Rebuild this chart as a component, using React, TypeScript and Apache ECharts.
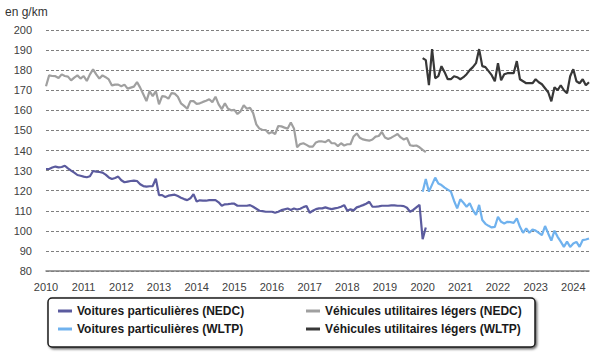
import React, { useEffect, useRef } from "react";
import * as echarts from "echarts";

const START_NEDC = 2010; // January 2010
const START_WLTP = 2020; // January 2020
const X_MAX = 2024 + 5 / 12; // June 2024
const yearTicks = [2010, 2011, 2012, 2013, 2014, 2015, 2016, 2017, 2018, 2019, 2020, 2021, 2022, 2023, 2024];

const NAME_VP_NEDC = "Voitures particulières (NEDC)";
const NAME_VP_WLTP = "Voitures particulières (WLTP)";
const NAME_VUL_NEDC = "Véhicules utilitaires légers (NEDC)";
const NAME_VUL_WLTP = "Véhicules utilitaires légers (WLTP)";

// Monthly values, from January 2010
const vpNedc = [
  130.8, 130.8, 131.5, 132, 131.6, 131.8, 132.4, 131.1, 130, 129, 127.8, 127.4,
  127, 126.7, 127.2, 129.8, 129.5, 129.3, 129, 128, 126.6, 125.8, 126.3, 127,
  125.2, 124.2, 124.5, 124.8, 125, 124.8, 123.2, 122.3, 122, 122.2, 122.3, 126,
  117.8, 117.8, 116.8, 117.5, 117.8, 118, 117.3, 116.5, 115.8, 115.3, 116.2, 118.3,
  114.6, 115.2, 115, 115, 115.3, 115.3, 115.3, 114.2, 112.5, 113.2, 113.3, 113.5,
  113.5, 112.5, 112.5, 112.5, 112.5, 112.8, 112, 111, 110, 109.8, 109.5, 109.5,
  109.5, 109, 109.5, 110.3, 110.7, 111.1, 110.4, 111.1, 110.6, 111, 111.8, 112.4,
  109, 110, 110.8, 111.2, 111.2, 111.7, 111.2, 110.8, 111.2, 111.5, 112, 112.8,
  110, 110.7, 110.2, 111.7, 112.2, 112.8, 113.5, 114.5, 112, 112, 112.2, 112.5,
  112.5, 112.5, 112.7, 112.7, 112.5, 112.5, 112.3, 111.5, 109.5, 110.4, 111.7, 113,
  95.8, 101.7,
];

const vulNedc = [
  172, 177.4, 177.1, 177, 176.1, 177.9, 177.1, 176.8, 174.9, 176.3, 177.4, 175.8,
  177.1, 174.6, 177.9, 180.4, 177.9, 175.8, 177.4, 176.5, 175.4, 172.4, 172.8, 172.8,
  172, 172.8, 170.8, 171.3, 171.8, 174.1, 171.3, 168, 164.6, 169.6, 167.1, 169.6,
  163, 167.1, 166.8, 165.8, 168.6, 168.3, 166.8, 163.5, 162.2, 160.8, 164.6, 164.6,
  163.2, 163.5, 164.2, 164.8, 165.5, 164.1, 166.8, 163, 160.6, 163.5, 160.8, 160,
  160.2, 158.2, 159.5, 162.5, 160.8, 161.3, 158.6, 153, 150.9, 150.2, 150.2, 148.5,
  149.2, 148.2, 152.2, 152, 151.4, 150.9, 153.9, 151, 141.6, 143.2, 143.6, 142.8,
  141.9, 141.9, 144, 144.6, 144.5, 144.2, 145.3, 143.6, 143.6, 142.2, 143.6, 142.5,
  143.1, 143.1, 147, 148.5, 146.3, 145.5, 145.2, 144.9, 145.5, 146.9, 147.2, 149.2,
  146.5, 145.7, 146.4, 147.3, 148.2, 146.5, 145.5, 146.2, 142.6, 142.3, 142.5, 141.6,
  140.3, 139.2,
];

// Monthly values, from January 2020
const vpWltp = [
  119.5, 125.8, 119.5, 123, 126.5, 123.6, 122.8, 121.5, 120.5, 119.5, 115, 111.2,
  115.7, 114, 112, 113.7, 110.3, 107.9, 112.9, 105.4, 103.5, 102.5, 101.7, 102,
  107, 104.5, 103.7, 104.5, 104.3, 104, 106.2, 102, 99, 101.2, 99, 100.7,
  100.1, 99, 97.9, 102.4, 98.7, 95.1, 100.1, 97, 94.6, 92, 94.6, 92,
  93.7, 94.5, 92, 95.4, 95.7, 96.2,
];

const vulWltp = [
  186, 185, 172.5, 190.5, 176, 177, 182, 179, 175.5, 175.5, 177, 176.5,
  175.5, 176.5, 178, 180, 181.5, 183.5, 190.5, 182, 181.5, 179.5, 177.5, 174.5,
  183.5, 175, 178, 178.5, 178.5, 178.5, 184.5, 175.5, 174.5, 173.5, 173.5, 173.5,
  175.5, 174, 173, 171, 169, 164.5, 171.5, 170, 172.5, 170, 168.5, 177,
  180.5, 174.5, 173.5, 175.5, 172.5, 174,
];

const toPairs = (start: number, values: number[]) =>
  values.map((v, i) => [start + i / 12, v]);

const FONT = "Liberation Sans, Arial, sans-serif";

export default function App() {
  const ref = useRef<HTMLDivElement>(null);

  useEffect(() => {
    if (!ref.current) return;
    const chart = echarts.init(ref.current, undefined, { renderer: "svg" });
    const line = (name: string, color: string, start: number, values: number[], z: number) => ({
      name,
      type: "line",
      data: toPairs(start, values),
      showSymbol: false,
      symbol: "none",
      z,
      lineStyle: { color, width: 2.2 },
      itemStyle: { color },
    });
    const legendBase = {
      orient: "vertical",
      icon: "rect",
      itemWidth: 14,
      itemHeight: 3,
      itemGap: 6,
      padding: 0,
      textStyle: { fontFamily: FONT, fontSize: 12, fontWeight: "bold", color: "#1a1a1a" },
    };
    chart.setOption({
      animation: false,
      textStyle: { fontFamily: FONT },
      grid: { left: 46, right: 23, top: 30, bottom: 86, containLabel: false },
      graphic: [
        {
          type: "text",
          left: 5,
          top: 6,
          style: { text: "en g/km", font: `12px ${FONT}`, fill: "#333333" },
        },
        {
          type: "rect",
          shape: { x: 48, y: 298, width: 487, height: 49, r: 4 },
          style: {
            fill: "#ffffff",
            stroke: "#1a1a1a",
            lineWidth: 1.5,
            shadowBlur: 2,
            shadowOffsetX: 1.5,
            shadowOffsetY: 1.5,
            shadowColor: "rgba(0,0,0,0.6)",
          },
          z: -1,
        },
      ],
      legend: [
        { ...legendBase, left: 58, top: 305, data: [NAME_VP_NEDC, NAME_VP_WLTP] },
        { ...legendBase, left: 306, top: 305, data: [NAME_VUL_NEDC, NAME_VUL_WLTP] },
      ],
      xAxis: {
        type: "value",
        min: START_NEDC,
        max: X_MAX,
        interval: 1,
        axisLine: { show: true, lineStyle: { color: "#808080", width: 1.5 } },
        axisTick: { show: false },
        splitLine: { show: false },
        axisLabel: {
          margin: 10,
          fontSize: 11,
          color: "#404040",
          fontFamily: FONT,
          formatter: (v: number) => (yearTicks.includes(v) ? String(v) : ""),
          showMaxLabel: false,
        },
      },
      yAxis: {
        type: "value",
        min: 80,
        max: 200,
        interval: 10,
        axisLine: { show: false },
        axisTick: { show: false },
        axisLabel: { margin: 14, fontSize: 11, color: "#404040", fontFamily: FONT },
        splitLine: { show: true, lineStyle: { color: "#7f7f7f", type: [3, 2], width: 1 } },
      },
      series: [
        line(NAME_VUL_NEDC, "#a0a0a0", START_NEDC, vulNedc, 2),
        line(NAME_VP_NEDC, "#5b5b9e", START_NEDC, vpNedc, 3),
        line(NAME_VUL_WLTP, "#383838", START_WLTP, vulWltp, 2),
        line(NAME_VP_WLTP, "#70b2ee", START_WLTP, vpWltp, 3),
      ],
    });
    return () => chart.dispose();
  }, []);

  return (
    <div
      ref={ref}
      style={{ position: "fixed", left: 0, top: 0, width: 612, height: 357, background: "#ffffff" }}
    />
  );
}
